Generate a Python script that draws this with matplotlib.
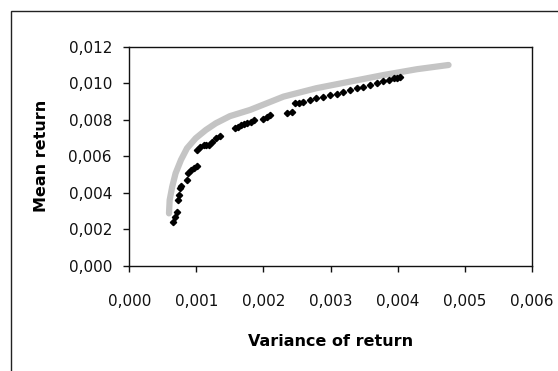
import matplotlib.pyplot as plt
from matplotlib.patches import Rectangle

plt.rcParams['font.family'] = ['DejaVu Sans']

# efficient frontier (grey)
frontier_var = [0.000592, 0.000602, 0.00064, 0.00069, 0.00077, 0.00086, 0.00099, 0.00114,
                0.00129, 0.0015, 0.0018, 0.0023, 0.00279, 0.00329, 0.00379, 0.00429,
                0.00476]
frontier_mean = [0.00288, 0.00361, 0.00434, 0.00507, 0.0058, 0.00644, 0.00699, 0.00744,
                 0.00781, 0.0082, 0.00854, 0.00927, 0.00973, 0.01009, 0.01045, 0.01077,
                 0.0110]

# sample portfolios (black)
port_var = [0.000657, 0.000677, 0.000706, 0.000726, 0.000741, 0.000756, 0.000776, 0.000865,
            0.000875, 0.000915, 0.000965, 0.00101, 0.00101, 0.00106, 0.00111, 0.00115,
            0.00119, 0.00124, 0.0013, 0.00135, 0.00158, 0.00162, 0.00166, 0.00171, 0.00176,
            0.00181, 0.00186, 0.0020, 0.00205, 0.0021, 0.00235, 0.00242, 0.00247, 0.00253,
            0.00259, 0.00269, 0.00279, 0.00289, 0.00299, 0.00309, 0.00319, 0.00329, 0.00339,
            0.00349, 0.00359, 0.00369, 0.00379, 0.00387, 0.00394, 0.00399, 0.00404]
port_mean = [0.00239, 0.00270, 0.00297, 0.00361, 0.00389, 0.00425, 0.00440, 0.00471,
             0.00507, 0.00525, 0.00535, 0.00549, 0.00635, 0.00650, 0.00662, 0.00660,
             0.00662, 0.00680, 0.00699, 0.00712, 0.00754, 0.00763, 0.00772, 0.00779, 0.00785,
             0.00790, 0.00799, 0.00803, 0.00814, 0.00826, 0.00839, 0.00845, 0.00890, 0.00894,
             0.00899, 0.00908, 0.00918, 0.00927, 0.00936, 0.00943, 0.00951, 0.00962, 0.00973,
             0.00982, 0.00991, 0.01003, 0.01014, 0.01020, 0.01027, 0.01031, 0.01036]

x_ticks = [0.0, 0.001, 0.002, 0.003, 0.004, 0.005, 0.006]
y_ticks = [0.0, 0.002, 0.004, 0.006, 0.008, 0.010, 0.012]

fig = plt.figure(figsize=(5.58, 3.71), dpi=100)
fig.patches.append(Rectangle((11 / 558, -0.05), 1.1, 0.05 + 1 - 11 / 371,
                             transform=fig.transFigure, fill=False,
                             edgecolor='#222222', linewidth=1.0))
ax = fig.add_axes([0.2317, 0.283, 0.9529 - 0.2317, 0.8741 - 0.283])

ax.plot(frontier_var, frontier_mean, color='#c4c4c4', linewidth=4.5, solid_capstyle='round')
ax.plot(port_var, port_mean, linestyle='none', marker='D', markersize=3.2,
        color='black')

ax.set_xlim(0, 0.006)
ax.set_ylim(0, 0.012)
ax.set_xticks(x_ticks)
ax.set_yticks(y_ticks)
ax.set_xticklabels([f'{t:.3f}'.replace('.', ',') for t in x_ticks])
ax.set_yticklabels([f'{t:.3f}'.replace('.', ',') for t in y_ticks])
ax.tick_params(direction='out', length=4.5, width=1, labelsize=11, colors='#111111')
ax.tick_params(axis='y', pad=8)
ax.tick_params(axis='x', pad=16)
for s in ax.spines.values():
    s.set_linewidth(1.0)
    s.set_color('#111111')

ax.set_xlabel('Variance of return', fontsize=11.5, fontweight='bold', labelpad=18)
ax.set_ylabel('Mean return', fontsize=11.5, fontweight='bold', labelpad=14)

fig.savefig('out.png', dpi=100)
